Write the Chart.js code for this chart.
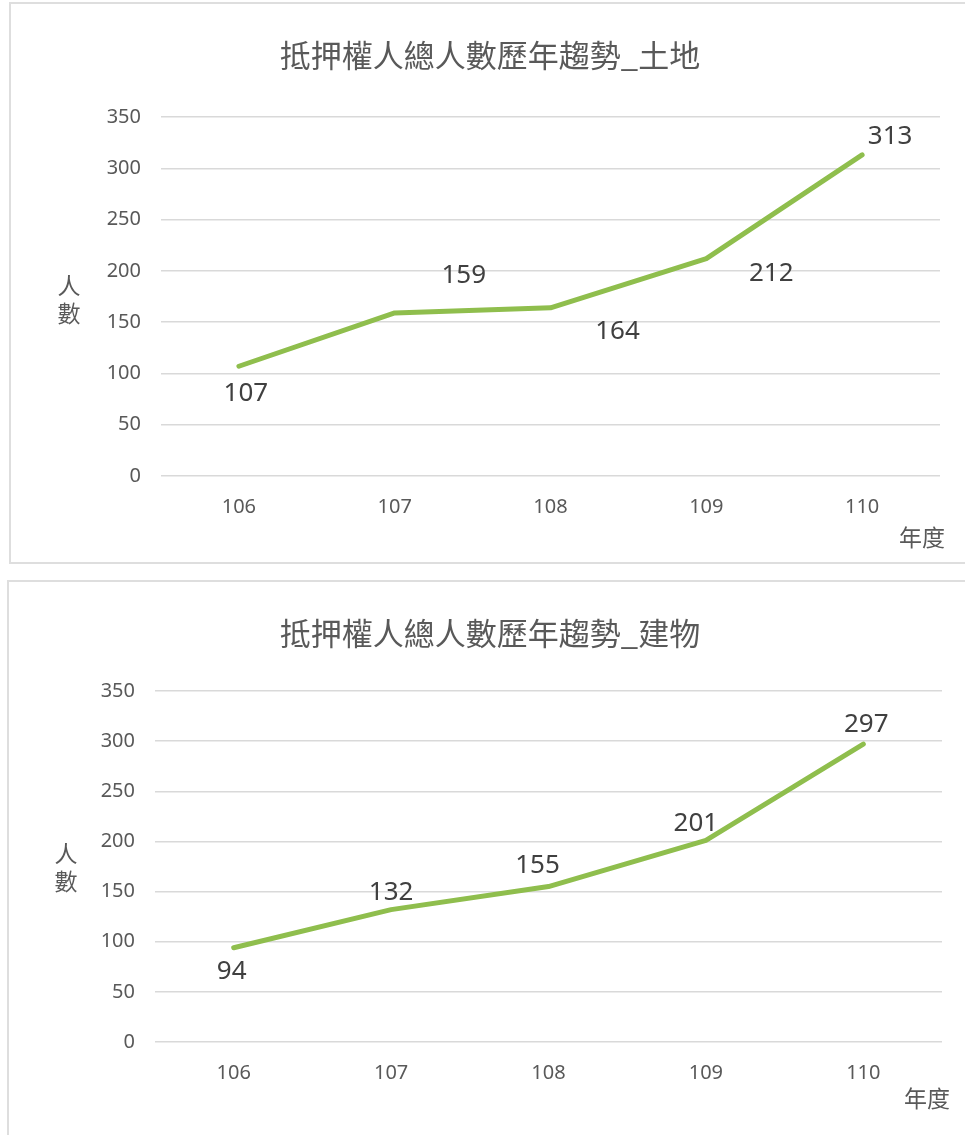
<!DOCTYPE html>
<html lang="zh-Hant">
<head>
    <meta charset="UTF-8">
    <title>抵押權人總人數歷年趨勢</title>
    <script src="https://cdn.jsdelivr.net/npm/chart.js@4.4.1/dist/chart.umd.min.js"></script>
	<style>
		body, html {
            margin: 0;
            padding: 0;
            width: 965px;
            height: 1135px;
            overflow: hidden;
            background: #fff;
        }
        .chart-box {
            position: absolute;
            border: 2px solid #dedede;
            background: #fff;
        }
        #boxLand {
            left: 9px;
            top: 2px;
        }
        #boxBuilding {
            left: 7px;
            top: 580px;
        }
        canvas {
            display: block;
        }
    </style>
</head>
<body>
    <div class="chart-box" id="boxLand">
        <canvas id="landChart" width="954" height="558"></canvas>
    </div>
    <div class="chart-box" id="boxBuilding">
        <canvas id="buildingChart" width="956" height="553"></canvas>
    </div>

    <script>
		// 年度
		const years = ['106', '107', '108', '109', '110'];
		// 抵押權人總人數
		const landCounts = [107, 159, 164, 212, 313];
		const buildingCounts = [94, 132, 155, 201, 297];
		// Y 軸刻度
		const yTicks = [0, 50, 100, 150, 200, 250, 300, 350];

		const landTitle = '抵押權人總人數歷年趨勢_土地';
		const buildingTitle = '抵押權人總人數歷年趨勢_建物';

		const numFont = '"Noto Sans", "Open Sans", sans-serif';
		const cjkFont = '"Noto Sans CJK TC", "Noto Sans CJK SC", sans-serif';

		// 標籤相對於資料點的位移 (像素)
		const landLabelShift = [[7, 27], [69, -37], [67, 24], [65, 15], [28, -18]];
		const buildingLabelShift = [[-2, 24], [0, -17], [-11, -21], [-10, -17], [3, -20]];

		// 標題、軸標題與數值標籤
		const decorPlugin = {
			id: 'decor',
			afterDraw(chart, args, opts) {
				const ctx = chart.ctx;
				ctx.save();
				ctx.textAlign = 'center';
				ctx.textBaseline = 'middle';

				ctx.fillStyle = '#595959';
				ctx.font = '31px ' + cjkFont;
				ctx.fillText(opts.title, opts.titlePos[0], opts.titlePos[1]);

				ctx.font = '23px ' + cjkFont;
				ctx.fillText('人', opts.yTitlePos[0], opts.yTitlePos[1]);
				ctx.fillText('數', opts.yTitlePos[0], opts.yTitlePos[1] + 28);
				ctx.fillText('年度', opts.xTitlePos[0], opts.xTitlePos[1]);

				ctx.fillStyle = '#404040';
				ctx.font = '26px ' + numFont;
				const meta = chart.getDatasetMeta(0);
				meta.data.forEach((pt, i) => {
					const shift = opts.labelShift[i];
					ctx.fillText(String(chart.data.datasets[0].data[i]), pt.x + shift[0], pt.y + shift[1]);
				});
				ctx.restore();
			}
		};

		function buildChart(canvasId, values, decor, area) {
			const context = document.getElementById(canvasId).getContext('2d');
			return new Chart(context, {
				type: 'line',
				data: {
					labels: years,
					datasets: [{
						data: values,
						borderColor: '#8fbe4d',
						borderWidth: 5,
						borderCapStyle: 'round',
						borderJoinStyle: 'round',
						pointRadius: 0,
						tension: 0,
						fill: false
					}]
				},
				options: {
					responsive: false,
					animation: false,
					layout: {
						padding: { top: area.top, right: area.right, bottom: 0, left: 0 }
					},
					plugins: {
						legend: { display: false },
						title: { display: false },
						tooltip: { enabled: false },
						decor: decor
					},
					scales: {
						x: {
							offset: true,
							grid: { display: false, drawTicks: false },
							border: { display: false },
							ticks: {
								color: '#595959',
								font: { family: numFont, size: 20 },
								padding: 19
							},
							afterFit(scale) { scale.height = area.bottom; }
						},
						y: {
							min: yTicks[0],
							max: yTicks[yTicks.length - 1],
							afterBuildTicks(scale) {
								scale.ticks = yTicks.map(v => ({ value: v }));
							},
							grid: { color: '#d9d9d9', lineWidth: 1.5, drawTicks: false },
							border: { display: false },
							ticks: {
								color: '#595959',
								font: { family: numFont, size: 20 },
								padding: 20
							},
							afterFit(scale) { scale.width = area.left; }
						}
					}
				},
				plugins: [decorPlugin]
			});
		}

		this.landChart = buildChart('landChart', landCounts, {
			title: landTitle,
			titlePos: [479, 51],
			yTitlePos: [58, 281],
			xTitlePos: [911, 533],
			labelShift: landLabelShift
		}, { top: 113, right: 25, bottom: 86, left: 150 });

		this.buildingChart = buildChart('buildingChart', buildingCounts, {
			title: buildingTitle,
			titlePos: [481, 51],
			yTitlePos: [57, 271],
			xTitlePos: [918, 516],
			labelShift: buildingLabelShift
		}, { top: 109, right: 23, bottom: 93, left: 146 });
    </script>
</body>
</html>
